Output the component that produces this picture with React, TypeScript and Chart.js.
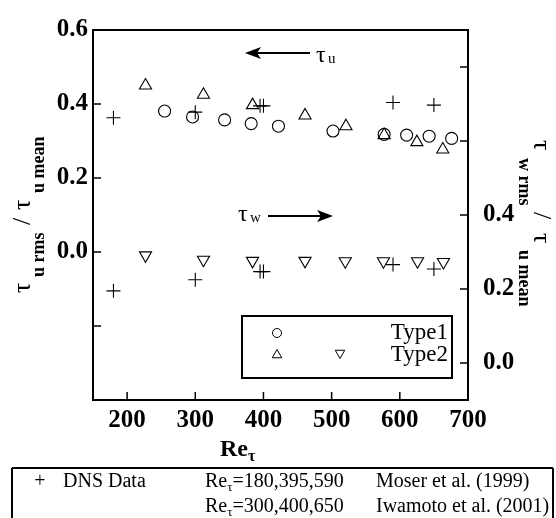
import React, { useEffect, useRef } from 'react';
import { Chart, registerables } from 'chart.js';
Chart.register(...registerables);

const SERIF = "'Liberation Serif', 'Times New Roman', Times, serif";

// axis ticks
const xTicks = [200, 300, 400, 500, 600, 700];
const leftTicks = [-0.4, -0.2, 0, 0.2, 0.4, 0.6];
const leftLabeled = [0, 0.2, 0.4, 0.6];
const rightTicks = [0, 0.2, 0.4, 0.6, 0.8];
const rightLabeled = [0, 0.2, 0.4];

// DNS data (+)
const dnsRe = [180, 300, 395, 400, 590, 650];
const dnsTauU = [0.363, 0.378, 0.395, 0.395, 0.404, 0.397];
const dnsTauW = [0.195, 0.225, 0.247, 0.247, 0.266, 0.254];

// Type1 (circles, tau_u)
const type1Re = [255, 296, 343, 382, 422, 502, 577, 610, 643, 676];
const type1TauU = [0.381, 0.365, 0.357, 0.347, 0.34, 0.327, 0.318, 0.316, 0.313, 0.307];

// Type2 (up triangles, tau_u)
const type2Re = [227, 312, 384, 461, 521, 577, 625, 663];
const type2TauU = [0.45, 0.425, 0.397, 0.369, 0.34, 0.316, 0.297, 0.277];

// Type2 (down triangles, tau_w)
const type2WRe = [227, 312, 384, 461, 520, 576, 626, 664];
const type2TauW = [0.291, 0.279, 0.276, 0.276, 0.275, 0.275, 0.275, 0.273];

const pts = (xs: number[], ys: number[]) => xs.map((x, i) => ({ x, y: ys[i] }));

function tri(ctx: CanvasRenderingContext2D, cx: number, cy: number, r: number, down: boolean) {
  const s = down ? -1 : 1;
  ctx.beginPath();
  ctx.moveTo(cx, cy - s * r);
  ctx.lineTo(cx + r * 0.866, cy + s * r * 0.5);
  ctx.lineTo(cx - r * 0.866, cy + s * r * 0.5);
  ctx.closePath();
  ctx.stroke();
}

type Part = { t: string; f: string; at: number; dy: number };
function drawRotated(ctx: CanvasRenderingContext2D, ox: number, oy: number, ang: number, parts: Part[]) {
  ctx.save();
  ctx.translate(ox, oy);
  ctx.rotate(ang);
  ctx.textAlign = 'left';
  ctx.textBaseline = 'alphabetic';
  for (const p of parts) {
    ctx.font = p.f;
    ctx.fillText(p.t, p.at, p.dy);
  }
  ctx.restore();
}

function arrow(ctx: CanvasRenderingContext2D, x1: number, x2: number, y: number, headLeft: boolean) {
  ctx.lineWidth = 2;
  ctx.beginPath();
  if (headLeft) { ctx.moveTo(x1 + 12, y); ctx.lineTo(x2, y); }
  else { ctx.moveTo(x1, y); ctx.lineTo(x2 - 12, y); }
  ctx.stroke();
  ctx.beginPath();
  if (headLeft) {
    ctx.moveTo(x1, y); ctx.lineTo(x1 + 16, y - 6); ctx.lineTo(x1 + 12, y); ctx.lineTo(x1 + 16, y + 6);
  } else {
    ctx.moveTo(x2, y); ctx.lineTo(x2 - 16, y - 6); ctx.lineTo(x2 - 12, y); ctx.lineTo(x2 - 16, y + 6);
  }
  ctx.closePath();
  ctx.fill();
}

const decor = {
  id: 'decor',
  afterDraw(chart: any) {
    const ctx: CanvasRenderingContext2D = chart.ctx;
    const { left, right, top, bottom } = chart.chartArea;
    const sx = chart.scales.x, yL = chart.scales.yL, yR = chart.scales.yR;
    ctx.save();
    ctx.strokeStyle = '#000';
    ctx.fillStyle = '#000';
    ctx.lineWidth = 2;
    ctx.strokeRect(left, top, right - left, bottom - top);
    ctx.lineWidth = 1.5;
    ctx.beginPath();
    for (const v of xTicks) { const p = sx.getPixelForValue(v); ctx.moveTo(p, bottom); ctx.lineTo(p, bottom - 8); }
    for (const v of leftTicks) { const p = yL.getPixelForValue(v); ctx.moveTo(left, p); ctx.lineTo(left + 8, p); }
    for (const v of rightTicks) { const p = yR.getPixelForValue(v); ctx.moveTo(right, p); ctx.lineTo(right - 8, p); }
    ctx.stroke();

    // arrows and labels
    arrow(ctx, 245, 310, 53, true);
    ctx.textAlign = 'left';
    ctx.textBaseline = 'alphabetic';
    ctx.font = `24px ${SERIF}`;
    ctx.fillText('τ', 316, 62);
    ctx.font = `15px ${SERIF}`;
    ctx.fillText('u', 328, 63);
    arrow(ctx, 268, 333, 216, false);
    ctx.font = `24px ${SERIF}`;
    ctx.fillText('τ', 238, 221);
    ctx.font = `15px ${SERIF}`;
    ctx.fillText('w', 250, 222);

    // legend box
    ctx.fillStyle = '#fff';
    ctx.fillRect(242, 316, 210, 62);
    ctx.fillStyle = '#000';
    ctx.lineWidth = 2;
    ctx.strokeRect(242, 316, 210, 62);
    ctx.lineWidth = 1;
    ctx.beginPath(); ctx.arc(277, 333, 4.5, 0, Math.PI * 2); ctx.stroke();
    tri(ctx, 277, 355, 5.5, false);
    tri(ctx, 340, 353, 5.5, true);
    ctx.font = `23px ${SERIF}`;
    ctx.textAlign = 'right';
    ctx.fillText('Type1', 448, 339);
    ctx.fillText('Type2', 448, 361);

    // axis titles
    const bold18 = `bold 18px ${SERIF}`;
    const reg26 = `26px ${SERIF}`;
    drawRotated(ctx, 30, 293, -Math.PI / 2, [
      { t: 'τ', f: reg26, at: 0, dy: 0 },
      { t: 'u rms', f: bold18, at: 16, dy: 14 },
      { t: '/', f: reg26, at: 68, dy: 0 },
      { t: 'τ', f: reg26, at: 83, dy: 0 },
      { t: 'u mean', f: bold18, at: 100, dy: 14 },
    ]);
    drawRotated(ctx, 534, 140, Math.PI / 2, [
      { t: 'τ', f: reg26, at: 0, dy: 0 },
      { t: 'w rms', f: bold18, at: 18, dy: 15 },
      { t: '/', f: reg26, at: 72, dy: 0 },
      { t: 'τ', f: reg26, at: 93, dy: 0 },
      { t: 'u mean', f: bold18, at: 110, dy: 15 },
    ]);
    ctx.textAlign = 'left';
    ctx.font = `bold 24px ${SERIF}`;
    ctx.fillText('Re', 220, 456);
    const w = ctx.measureText('Re').width;
    ctx.font = `bold 16px ${SERIF}`;
    ctx.fillText('τ', 220 + w, 461);

    // table
    ctx.lineWidth = 2;
    ctx.beginPath();
    ctx.moveTo(12, 468); ctx.lineTo(553, 468);
    ctx.moveTo(12, 468); ctx.lineTo(12, 518);
    ctx.moveTo(553, 468); ctx.lineTo(553, 518);
    ctx.stroke();
    const reg = `20px ${SERIF}`;
    const sub = `13px ${SERIF}`;
    ctx.font = reg;
    ctx.textAlign = 'center';
    ctx.fillText('+', 40, 487);
    ctx.textAlign = 'left';
    ctx.fillText('DNS Data', 63, 487);
    const rows: [number, string, string][] = [
      [487, '=180,395,590', 'Moser et al. (1999)'],
      [512, '=300,400,650', 'Iwamoto et al. (2001)'],
    ];
    for (const [by, nums, ref] of rows) {
      ctx.font = reg;
      ctx.fillText('Re', 205, by);
      let xx = 205 + ctx.measureText('Re').width;
      ctx.font = sub;
      ctx.fillText('τ', xx, by + 4);
      xx += ctx.measureText('τ').width;
      ctx.font = reg;
      ctx.fillText(nums, xx, by);
      ctx.fillText(ref, 376, by);
    }
    ctx.restore();
  },
};

export default function App() {
  const ref = useRef<HTMLCanvasElement>(null);
  useEffect(() => {
    const canvas = ref.current!;
    const tickFont = { family: SERIF, size: 25, weight: 'bold' as const };
    const base = { showLine: false, borderColor: '#000', backgroundColor: 'rgba(0,0,0,0)', pointBorderWidth: 1.1 };
    const chart = new Chart(canvas, {
      type: 'scatter',
      data: {
        datasets: [
          { ...base, label: 'DNS tau_u', data: pts(dnsRe, dnsTauU), yAxisID: 'yL', pointStyle: 'cross', pointRadius: 7 },
          { ...base, label: 'DNS tau_w', data: pts(dnsRe, dnsTauW), yAxisID: 'yR', pointStyle: 'cross', pointRadius: 7 },
          { ...base, label: 'Type1', data: pts(type1Re, type1TauU), yAxisID: 'yL', pointStyle: 'circle', pointRadius: 6 },
          { ...base, label: 'Type2 u', data: pts(type2Re, type2TauU), yAxisID: 'yL', pointStyle: 'triangle', pointRadius: 7 },
          { ...base, label: 'Type2 w', data: pts(type2WRe, type2TauW), yAxisID: 'yR', pointStyle: 'triangle', pointRadius: 7, pointRotation: 180 },
        ] as any,
      },
      options: {
        responsive: false,
        animation: false,
        events: [],
        layout: { padding: { top: 25, left: 0, right: 0, bottom: 0 } },
        plugins: { legend: { display: false }, tooltip: { enabled: false } },
        scales: {
          x: {
            type: 'linear', position: 'bottom', min: 150, max: 700,
            grid: { display: false, drawTicks: false }, border: { display: false },
            ticks: { font: tickFont, color: '#000', padding: 6, maxRotation: 0, autoSkip: false, callback: (v: any) => String(v) },
            afterBuildTicks: (s: any) => { s.ticks = xTicks.map((v) => ({ value: v })); },
            afterFit: (s: any) => { s.height = 118; },
          },
          yL: {
            type: 'linear', position: 'left', min: -0.4, max: 0.6,
            grid: { display: false, drawTicks: false }, border: { display: false },
            ticks: {
              font: tickFont, color: '#000', padding: 5, autoSkip: false,
              callback: (v: any) => (leftLabeled.some((l) => Math.abs(l - v) < 1e-6) ? Number(v).toFixed(1) : ''),
            },
            afterBuildTicks: (s: any) => { s.ticks = leftTicks.map((v) => ({ value: v })); },
            afterFit: (s: any) => { s.width = 93; },
          },
          yR: {
            type: 'linear', position: 'right', min: -0.1, max: 0.9,
            grid: { display: false, drawTicks: false }, border: { display: false },
            ticks: {
              font: tickFont, color: '#000', padding: 15, autoSkip: false,
              callback: (v: any) => (rightLabeled.some((l) => Math.abs(l - v) < 1e-6) ? Number(v).toFixed(1) : ''),
            },
            afterBuildTicks: (s: any) => { s.ticks = rightTicks.map((v) => ({ value: v })); },
            afterFit: (s: any) => { s.width = 88; },
          },
        },
      } as any,
      plugins: [decor],
    });
    return () => chart.destroy();
  }, []);
  return (
    <div style={{ position: 'fixed', left: 0, top: 0, width: 556, height: 518, background: '#fff' }}>
      <canvas ref={ref} width={556} height={518} style={{ display: 'block', width: 556, height: 518 }} />
    </div>
  );
}
